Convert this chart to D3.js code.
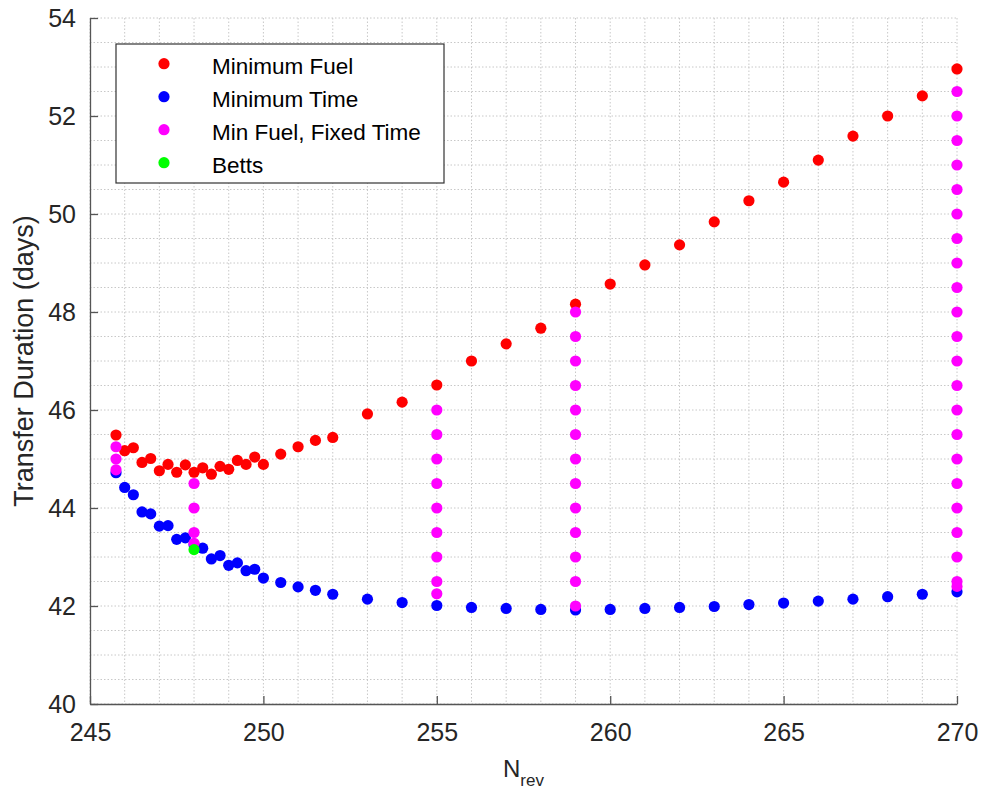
<!DOCTYPE html>
<html>
<head>
<meta charset="utf-8">
<script src="https://cdn.jsdelivr.net/npm/d3@7"></script>
<style>
  body { margin: 0; background: #fff; }
  svg { font-family: "Liberation Sans", Arial, sans-serif; }
  .grid line { stroke: #c8c8c8; stroke-width: 1; stroke-dasharray: 1.5,2; }
  .axis path, .axis line { stroke: #555; stroke-width: 1.3; }
  .axis text { fill: #262626; font-size: 25px; }
</style>
</head>
<body>
<svg width="981" height="794"></svg>
<script>
// Minimum Fuel
const fuelX = [245.75, 246, 246.25, 246.5, 246.75, 247, 247.25, 247.5, 247.75, 248,
  248.25, 248.5, 248.75, 249, 249.25, 249.5, 249.75, 250, 250.5, 251, 251.5, 252,
  253, 254, 255, 256, 257, 258, 259, 260, 261, 262, 263, 264, 265, 266, 267, 268, 269, 270];
const fuelY = [45.49, 45.17, 45.23, 44.93, 45.01, 44.76, 44.89, 44.73, 44.88, 44.73,
  44.82, 44.69, 44.85, 44.79, 44.97, 44.89, 45.04, 44.89, 45.10, 45.25, 45.38, 45.44,
  45.92, 46.16, 46.51, 47.00, 47.35, 47.67, 48.16, 48.57, 48.96, 49.37, 49.84, 50.27,
  50.65, 51.10, 51.59, 52.00, 52.41, 52.96];

// Minimum Time
const timeX = fuelX;
const timeY = [44.72, 44.42, 44.27, 43.92, 43.88, 43.63, 43.64, 43.36, 43.39, 43.25,
  43.18, 42.96, 43.03, 42.83, 42.88, 42.72, 42.75, 42.57, 42.48, 42.39, 42.32, 42.24,
  42.14, 42.07, 42.01, 41.97, 41.95, 41.93, 41.92, 41.93, 41.95, 41.97, 41.99, 42.03,
  42.06, 42.10, 42.14, 42.19, 42.24, 42.29];

// Min Fuel, Fixed Time
const fixedX = [245.75, 245.75, 245.75,
  248, 248, 248, 248,
  255, 255, 255, 255, 255, 255, 255, 255, 255,
  259, 259, 259, 259, 259, 259, 259, 259, 259, 259, 259, 259, 259,
  270, 270, 270, 270, 270, 270, 270, 270, 270, 270, 270, 270, 270, 270, 270, 270,
  270, 270, 270, 270, 270, 270];
const fixedY = [45.25, 45.0, 44.78,
  44.5, 44.0, 43.5, 43.28,
  46.0, 45.5, 45.0, 44.5, 44.0, 43.5, 43.0, 42.5, 42.25,
  48.0, 47.5, 47.0, 46.5, 46.0, 45.5, 45.0, 44.5, 44.0, 43.5, 43.0, 42.5, 42.0,
  52.5, 52.0, 51.5, 51.0, 50.5, 50.0, 49.5, 49.0, 48.5, 48.0, 47.5, 47.0, 46.5, 46.0,
  45.5, 45.0, 44.5, 44.0, 43.5, 43.0, 42.5, 42.4];

// Betts
const bettsX = [248];
const bettsY = [43.15];

const xTicks = [245, 250, 255, 260, 265, 270];
const yTicks = [40, 42, 44, 46, 48, 50, 52, 54];
const seriesNames = ["Minimum Fuel", "Minimum Time", "Min Fuel, Fixed Time", "Betts"];
const seriesColors = ["#ff0000", "#0000ff", "#ff00ff", "#00ff00"];

const svg = d3.select("svg");
const margin = { top: 18, right: 24, bottom: 90, left: 90 };
const width = +svg.attr("width") - margin.left - margin.right;
const height = +svg.attr("height") - margin.top - margin.bottom;

const chart = svg.append("g").attr("transform", `translate(${margin.left},${margin.top})`);

const x = d3.scaleLinear().domain([245, 270]).range([0, width]);
const y = d3.scaleLinear().domain([40, 54]).range([height, 0]);

// dotted grid, minor + major
chart.append("g").attr("class", "grid")
  .selectAll("line").data(d3.range(245, 270.01, 1)).join("line")
  .attr("x1", d => x(d)).attr("x2", d => x(d))
  .attr("y1", 0).attr("y2", height);

chart.append("g").attr("class", "grid")
  .selectAll("line").data(d3.range(40, 54.01, 0.5)).join("line")
  .attr("y1", d => y(d)).attr("y2", d => y(d))
  .attr("x1", 0).attr("x2", width);

// axes, ticks pointing inward
chart.append("g").attr("class", "axis")
  .attr("transform", `translate(0,${height})`)
  .call(d3.axisBottom(x).tickValues(xTicks).tickSize(-8).tickSizeOuter(0).tickPadding(19));

chart.append("g").attr("class", "axis")
  .call(d3.axisLeft(y).tickValues(yTicks).tickSize(-8).tickSizeOuter(0).tickPadding(14));

// points
const r = 5.6;
function drawSeries(xs, ys, color) {
  chart.append("g").selectAll("circle")
    .data(xs.map((d, i) => [d, ys[i]]))
    .join("circle")
    .attr("cx", d => x(d[0]))
    .attr("cy", d => y(d[1]))
    .attr("r", r)
    .attr("fill", color);
}
drawSeries(fuelX, fuelY, seriesColors[0]);
drawSeries(timeX, timeY, seriesColors[1]);
drawSeries(fixedX, fixedY, seriesColors[2]);
drawSeries(bettsX, bettsY, seriesColors[3]);

// axis labels
svg.append("text")
  .attr("transform", "rotate(-90)")
  .attr("x", -(margin.top + height / 2))
  .attr("y", 33)
  .attr("text-anchor", "middle")
  .attr("font-size", "27px")
  .attr("fill", "#262626")
  .text("Transfer Duration (days)");

const xl = svg.append("text")
  .attr("x", margin.left + width / 2)
  .attr("y", 777)
  .attr("text-anchor", "middle")
  .attr("font-size", "24px")
  .attr("fill", "#262626");
xl.append("tspan").text("N");
xl.append("tspan").attr("font-size", "17px").attr("dy", 9).text("rev");

// legend
const legend = svg.append("g").attr("transform", "translate(116,44)");
legend.append("rect")
  .attr("width", 328).attr("height", 139)
  .attr("fill", "#fff").attr("stroke", "#333").attr("stroke-width", 1.2);

seriesNames.forEach((name, i) => {
  legend.append("circle")
    .attr("cx", 48).attr("cy", 19.7 + i * 33)
    .attr("r", r).attr("fill", seriesColors[i]);
  legend.append("text")
    .attr("x", 96).attr("y", 30 + i * 33)
    .attr("font-size", "22.5px").attr("fill", "#000")
    .text(name);
});
</script>
</body>
</html>
